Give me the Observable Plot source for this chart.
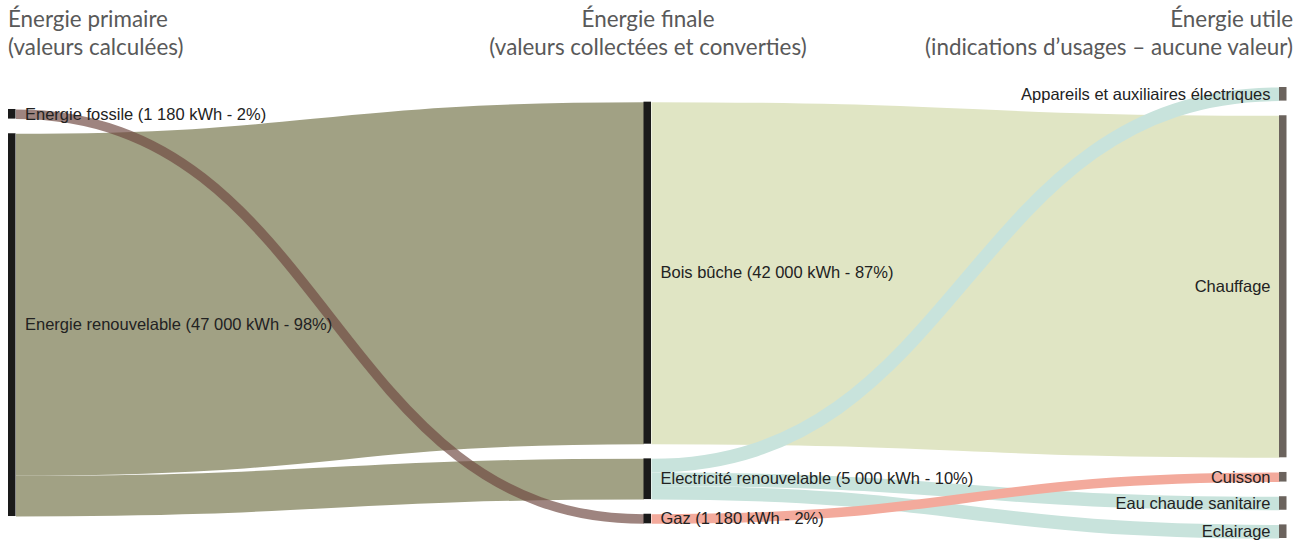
<!DOCTYPE html>
<html>
<head>
<meta charset="utf-8">
<script src="https://cdn.jsdelivr.net/npm/d3@7"></script>
<script src="https://cdn.jsdelivr.net/npm/@observablehq/plot@0.6"></script>
<style>
  body { margin: 0; background: #fff; }
  #page { width: 1301px; height: 542px; overflow: hidden; }
  #header { position: relative; width: 1301px; height: 70px; }
  .hdr { position: absolute; top: 5px; font-family: Lato, "Open Sans", sans-serif; font-size: 22.4px; line-height: 28px; color: #595959; white-space: nowrap; }
  #h0 { left: 8px; text-align: left; }
  #h1 { left: 648px; transform: translateX(-50%); text-align: center; }
  #h2 { right: 8px; text-align: right; }
  #chart svg { display: block; }
</style>
</head>
<body>
<div id="page">
  <div id="header">
    <div class="hdr" id="h0"></div>
    <div class="hdr" id="h1"></div>
    <div class="hdr" id="h2"></div>
  </div>
  <div id="chart"></div>
</div>
<script>
// ---------- data ----------
const columnTitles = ["Énergie primaire", "Énergie finale", "Énergie utile"];
const columnSubtitles = ["(valeurs calculées)", "(valeurs collectées et converties)", "(indications d’usages – aucune valeur)"];

const nodeNames = [
  "Energie fossile", "Energie renouvelable",
  "Bois bûche", "Electricité renouvelable", "Gaz",
  "Appareils et auxiliaires électriques", "Chauffage", "Cuisson", "Eau chaude sanitaire", "Eclairage"
];
const nodeColumns = [0, 0, 1, 1, 1, 2, 2, 2, 2, 2];
const nodeLabels = [
  "Energie fossile (1 180 kWh - 2%)", "Energie renouvelable (47 000 kWh - 98%)",
  "Bois bûche (42 000 kWh - 87%)", "Electricité renouvelable (5 000 kWh - 10%)", "Gaz (1 180 kWh - 2%)",
  "Appareils et auxiliaires électriques", "Chauffage", "Cuisson", "Eau chaude sanitaire", "Eclairage"
];

const linkSources = ["Energie renouvelable", "Energie renouvelable", "Energie fossile", "Bois bûche", "Electricité renouvelable", "Electricité renouvelable", "Electricité renouvelable", "Gaz"];
const linkTargets = ["Bois bûche", "Electricité renouvelable", "Gaz", "Chauffage", "Appareils et auxiliaires électriques", "Eau chaude sanitaire", "Eclairage", "Cuisson"];
const linkValues  = [42000, 5000, 1180, 42000, 1670, 1660, 1670, 1180];

// ---------- styles ----------
const linkColor = {
  "Energie renouvelable": "#a1a184",
  "Energie fossile": "#6e4840",
  "Bois bûche": "#e0e5c4",
  "Electricité renouvelable": "#c8e3dc",
  "Gaz": "#f3aa9c"
};
const linkOpacity = {"Energie fossile": 0.67};
const nodeColor = ["#1a1a1a", "#1a1a1a", "#6b635d"];

document.getElementById("h0").innerHTML = columnTitles[0] + "<br>" + columnSubtitles[0];
document.getElementById("h1").innerHTML = columnTitles[1] + "<br>" + columnSubtitles[1];
document.getElementById("h2").innerHTML = columnTitles[2] + "<br>" + columnSubtitles[2];

// ---------- sankey layout (value units) ----------
const W = 1301, H = 472, mTop = 17, mBottom = 4, mLeft = 8, mRight = 22;
const padding = 1800;      // gap between nodes, in kWh-equivalent
const nodeW = 0.0118;      // node width, in column units

const links = linkSources.map((s, i) => ({source: s, target: linkTargets[i], value: linkValues[i]}));
const nodes = nodeNames.map((n, i) => {
  const out = d3.sum(links.filter(l => l.source === n), l => l.value);
  const inn = d3.sum(links.filter(l => l.target === n), l => l.value);
  return {name: n, col: nodeColumns[i], label: nodeLabels[i], value: Math.max(out, inn)};
});
const byName = new Map(nodes.map(n => [n.name, n]));
const cols = d3.groups(nodes, d => d.col);
const colTotals = cols.map(([, ns]) => d3.sum(ns, d => d.value) + (ns.length - 1) * padding);
const maxTotal = d3.max(colTotals);
cols.forEach(([, ns], ci) => {
  let y = (maxTotal - colTotals[ci]) / 2;
  for (const n of ns) { n.y0 = y; n.y1 = y + n.value; y = n.y1 + padding; }
});
for (const n of nodes) {
  let sy = n.y0;
  links.filter(l => l.source === n.name)
    .sort((a, b) => byName.get(a.target).y0 - byName.get(b.target).y0)
    .forEach(l => { l.sy = sy + l.value / 2; sy += l.value; });
  let ty = n.y0;
  links.filter(l => l.target === n.name)
    .sort((a, b) => byName.get(a.source).y0 - byName.get(b.source).y0)
    .forEach(l => { l.ty = ty + l.value / 2; ty += l.value; });
}
const k = (H - mTop - mBottom) / maxTotal; // px per kWh

const labelFont = {fontFamily: "Liberation Sans, Arial, sans-serif", fontSize: 16.5, fill: "#222"};

const chart = Plot.plot({
  width: W, height: H,
  marginTop: mTop, marginBottom: mBottom, marginLeft: mLeft, marginRight: mRight,
  x: {domain: [0, 2], axis: null},
  y: {domain: [0, maxTotal], reverse: true, axis: null},
  marks: [
    Plot.link(links, {
      x1: d => byName.get(d.source).col + nodeW,
      y1: "sy",
      x2: d => byName.get(d.target).col,
      y2: "ty",
      curve: "bump-x",
      stroke: d => linkColor[d.source],
      strokeOpacity: d => linkOpacity[d.source] ?? 1,
      strokeWidth: d => d.value * k
    }),
    Plot.rect(nodes, {
      x1: "col", x2: d => d.col + nodeW, y1: "y0", y2: "y1",
      fill: d => nodeColor[d.col]
    }),
    Plot.text(nodes.filter(d => d.col < 2), {
      x: d => d.col + nodeW,
      y: d => (d.y0 + d.y1) / 2,
      text: "label",
      textAnchor: "start",
      dx: 9,
      ...labelFont
    }),
    Plot.text(nodes.filter(d => d.col === 2), {
      x: "col",
      y: d => (d.y0 + d.y1) / 2,
      text: "label",
      textAnchor: "end",
      dx: -9,
      ...labelFont
    })
  ]
});
document.getElementById("chart").appendChild(chart);
</script>
</body>
</html>
